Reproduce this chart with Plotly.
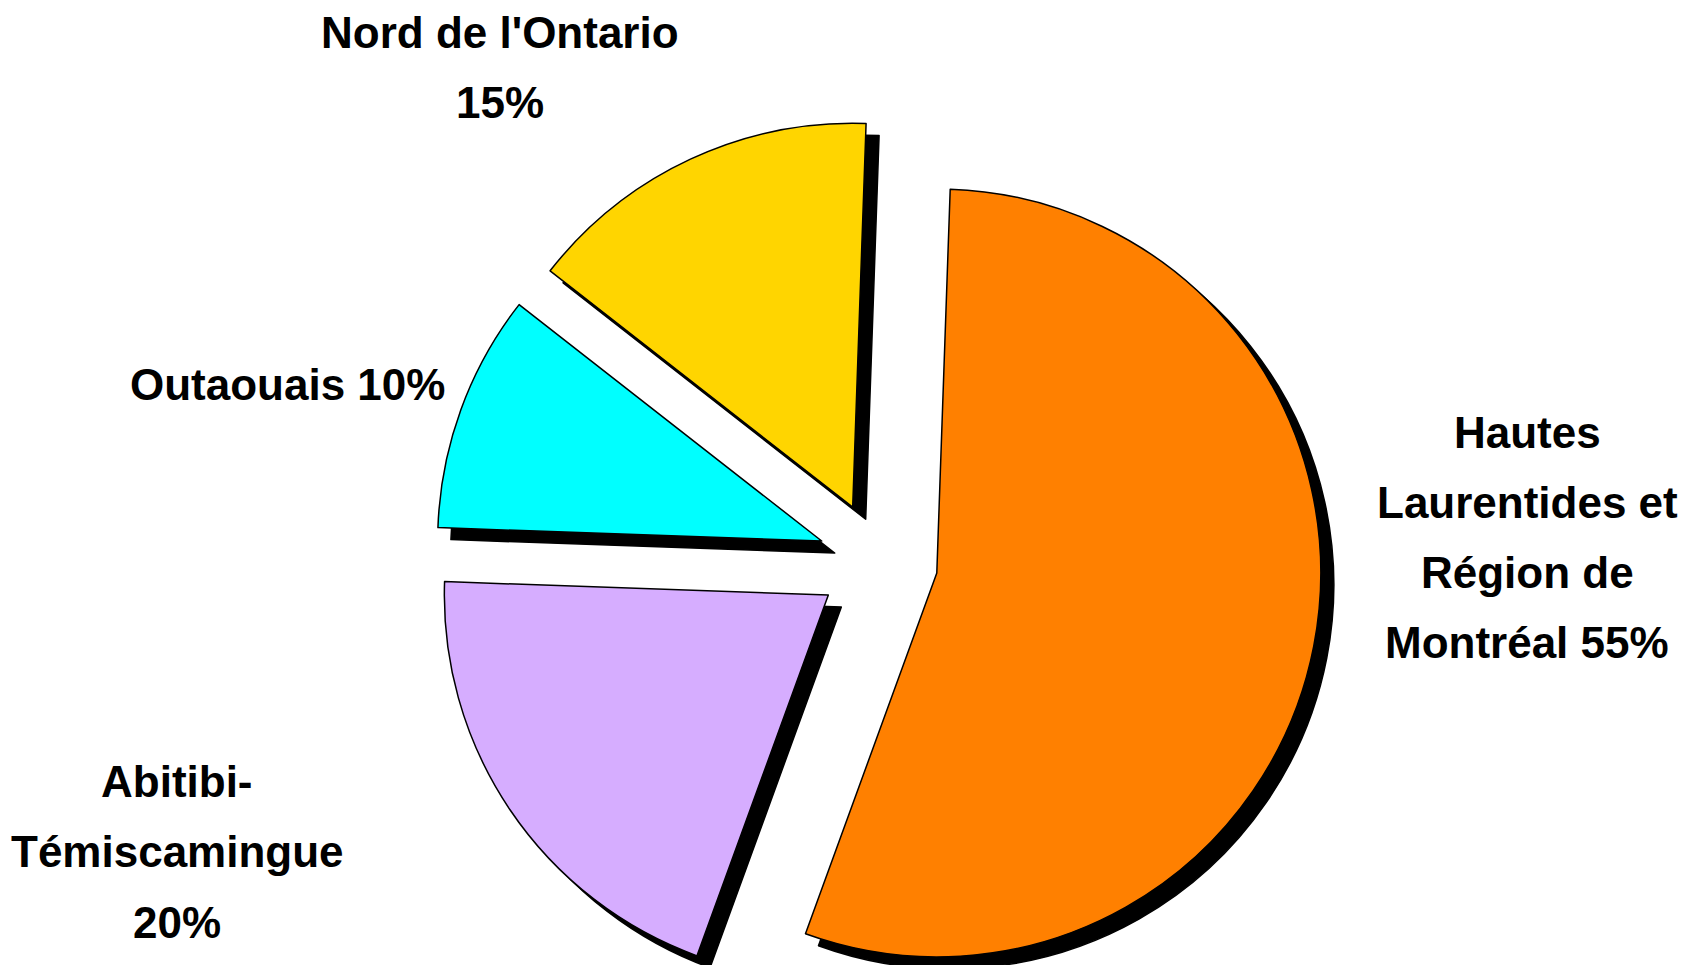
import plotly.graph_objects as go

# ---- data ----
categories = ["Hautes Laurentides et Région de Montréal",
              "Abitibi-Témiscamingue",
              "Outaouais",
              "Nord de l'Ontario"]
shares = [55, 20, 10, 15]
colors = ["#FF8000", "#D6ADFF", "#00FFFF", "#FFD500"]

# label lines (text only; percentages come from shares)
label_lines = [
    ["Hautes", "Laurentides et", "Région de", f"Montréal {shares[0]}%"],
    ["Abitibi-", "Témiscamingue", f"{shares[1]}%"],
    [f"Outaouais {shares[2]}%"],
    ["Nord de l'Ontario", f"{shares[3]}%"],
]

# ---- layout geometry (pixels) ----
W, H = 1702, 1020
CX, CY = 878, 561.5
R = 384
PULL = 0.156
SDX, SDY = 13, 12
ROT = 2
half = R * (1 + PULL)


def dom(cx, cy):
    return dict(x=[(cx - half) / W, (cx + half) / W],
                y=[1 - (cy + half) / H, 1 - (cy - half) / H])


label_pos = [(1527, 432, 70), (177, 781, 70.5), (287, 384, 0), (500, 33, 70)]

fig = go.Figure()
# shadow
fig.add_trace(go.Pie(
    labels=categories, values=shares, sort=False, direction="clockwise",
    rotation=ROT, pull=PULL, textinfo="none", hoverinfo="skip",
    marker=dict(colors=["#000000"] * len(shares), line=dict(color="#000000", width=1.5)),
    domain=dom(CX + SDX, CY + SDY), showlegend=False,
))
# main pie
fig.add_trace(go.Pie(
    labels=categories, values=shares, sort=False, direction="clockwise",
    rotation=ROT, pull=PULL, textinfo="none",
    marker=dict(colors=colors, line=dict(color="#000000", width=1.5)),
    domain=dom(CX, CY), showlegend=False,
))

annotations = []
for lines, (px, py, step) in zip(label_lines, label_pos):
    for k, t in enumerate(lines):
        annotations.append(dict(
            text=t, xref="paper", yref="paper",
            x=px / W, y=1 - (py + k * step) / H,
            xanchor="center", yanchor="middle", showarrow=False,
            font=dict(family="Liberation Sans, Arial, sans-serif", size=44,
                      color="#000000", weight="bold"),
        ))

fig.update_layout(
    width=W, height=H,
    margin=dict(l=0, r=0, t=0, b=0),
    paper_bgcolor="#FFFFFF", plot_bgcolor="#FFFFFF",
    showlegend=False,
    annotations=annotations,
)

fig.write_html("out.html", config={"displayModeBar": False},
               post_script="document.documentElement.style.overflow='hidden';"
                           "document.body.style.overflow='hidden';")
